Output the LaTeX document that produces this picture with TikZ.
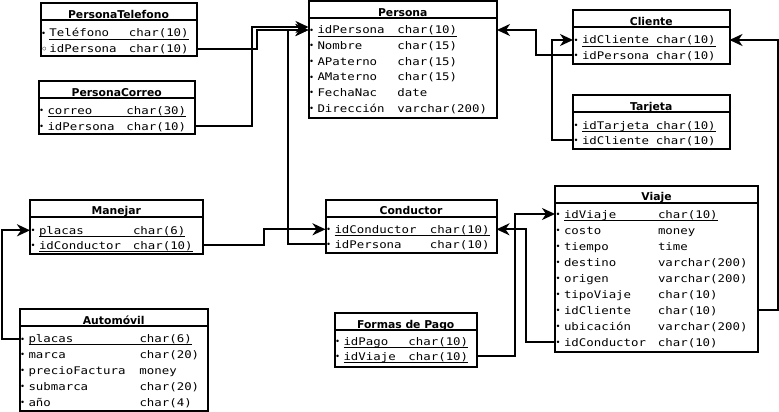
\documentclass[tikz,border=0pt]{standalone}
\usepackage{fontspec}
\usetikzlibrary{arrows.meta}
\newfontfamily\tabfont[FakeStretch=1.18]{DejaVu Sans Mono}
\newfontfamily\titfont{DejaVu Sans}
\newcommand{\punto}{\makebox[8pt][l]{\hspace{-0.3pt}\raisebox{0.6pt}{\titfont\fontsize{8.5}{8.5}\selectfont •}}}
\newcommand{\circulo}{\makebox[8pt][l]{\hspace{-0.6pt}\raisebox{-0.4pt}{\titfont\fontsize{12}{12}\selectfont ◦}}}
\newcommand{\campo}[2]{\makebox[#1pt][l]{#2}}
\newcommand{\clave}[1]{\setbox0\hbox{#1}\rlap{\rule[-2.6pt]{\wd0}{1pt}}\box0}

\begin{document}
\begin{tikzpicture}
        [x=1pt, y=-1pt,
        titulo/.style={draw, line width=2pt, inner sep=0pt, outer sep=0pt, anchor=north west, minimum height=17pt, text height=13.5pt, text depth=0pt, font=\titfont\bfseries\fontsize{10.8}{12}\selectfont},
        cuerpo/.style={draw, line width=2pt, inner sep=0pt, outer sep=0pt, anchor=north west},
        fila/.style={anchor=west, inner sep=0pt, outer sep=0pt, text height=8pt, text depth=0pt, font=\tabfont\fontsize{10.5}{12}\selectfont},
        fk/.style={line width=2pt, -{Stealth[length=13pt,width=12pt,inset=4pt]}}]

        \useasboundingbox (0,0) rectangle (779,412);

        \node[titulo, minimum width=156pt] (ptel) at (40.5,3.5) {PersonaTelefono};
        \node[cuerpo, minimum width=156pt, minimum height=36pt] (ptel-b) at (ptel.south west) {};
        \node[fila] (ptel-1) at (41.5,33) {\punto\clave{\campo{79.5}{Teléfono}char(10)}};
        \node[fila] (ptel-2) at (41.5,49) {\circulo\campo{79.5}{idPersona}char(10)};

        \node[titulo, minimum width=156.5pt] (pcor) at (38.5,81) {PersonaCorreo};
        \node[cuerpo, minimum width=156.5pt, minimum height=36pt] (pcor-b) at (pcor.south west) {};
        \node[fila] (pcor-1) at (39.5,110.5) {\punto\clave{\campo{79}{correo}char(30)}};
        \node[fila] (pcor-2) at (39.5,126) {\punto\campo{79}{idPersona}char(10)};

        \node[titulo, minimum width=188.5pt] (per) at (308.5,1) {Persona};
        \node[cuerpo, minimum width=188.5pt, minimum height=100pt] (per-b) at (per.south west) {};
        \node[fila] (per-1) at (309.5,30) {\punto\clave{\campo{80}{idPersona}char(10)}};
        \node[fila] (per-2) at (309.5,45.6) {\punto\campo{80}{Nombre}char(15)};
        \node[fila] (per-3) at (309.5,61.2) {\punto\campo{80}{APaterno}char(15)};
        \node[fila] (per-4) at (309.5,76.8) {\punto\campo{80}{AMaterno}char(15)};
        \node[fila] (per-5) at (309.5,92.4) {\punto\campo{80}{FechaNac}date};
        \node[fila] (per-6) at (309.5,108) {\punto\campo{80}{Dirección}varchar(200)};

        \node[titulo, minimum width=156.5pt] (cli) at (573,10) {Cliente};
        \node[cuerpo, minimum width=156.5pt, minimum height=37.5pt] (cli-b) at (cli.south west) {};
        \node[fila] (cli-1) at (574,40) {\punto\clave{\campo{74}{idCliente}char(10)}};
        \node[fila] (cli-2) at (574,55.5) {\punto\campo{74}{idPersona}char(10)};

        \node[titulo, minimum width=156.5pt] (tar) at (573,95) {Tarjeta};
        \node[cuerpo, minimum width=156.5pt, minimum height=37pt] (tar-b) at (tar.south west) {};
        \node[fila] (tar-1) at (574,125) {\punto\clave{\campo{74}{idTarjeta}char(10)}};
        \node[fila] (tar-2) at (574,140) {\punto\campo{74}{idCliente}char(10)};

        \node[titulo, minimum width=172.5pt] (man) at (30,199.5) {Manejar};
        \node[cuerpo, minimum width=172.5pt, minimum height=37pt] (man-b) at (man.south west) {};
        \node[fila] (man-1) at (31,230.3) {\punto\clave{\campo{94}{placas}char(6)}};
        \node[fila] (man-2) at (31,245.3) {\punto\clave{\campo{94}{idConductor}char(10)}};

        \node[titulo, minimum width=188.5pt] (aut) at (19.5,309) {Automóvil};
        \node[cuerpo, minimum width=188.5pt, minimum height=84.5pt] (aut-b) at (aut.south west) {};
        \node[fila] (aut-1) at (20.5,338.7) {\punto\clave{\campo{111}{placas}char(6)}};
        \node[fila] (aut-2) at (20.5,354.5) {\punto\campo{111}{marca}char(20)};
        \node[fila] (aut-3) at (20.5,370.3) {\punto\campo{111}{precioFactura}money};
        \node[fila] (aut-4) at (20.5,386.1) {\punto\campo{111}{submarca}char(20)};
        \node[fila] (aut-5) at (20.5,402) {\punto\campo{111}{año}char(4)};

        \node[titulo, minimum width=171pt] (con) at (325.5,199.5) {Conductor};
        \node[cuerpo, minimum width=171pt, minimum height=36pt] (con-b) at (con.south west) {};
        \node[fila] (con-1) at (326.5,229.3) {\punto\clave{\campo{95.5}{idConductor}char(10)}};
        \node[fila] (con-2) at (326.5,244.3) {\punto\campo{95.5}{idPersona}char(10)};

        \node[titulo, minimum width=142.5pt] (fdp) at (334.5,313) {Formas de Pago};
        \node[cuerpo, minimum width=142.5pt, minimum height=36.5pt] (fdp-b) at (fdp.south west) {};
        \node[fila] (fdp-1) at (335.5,341) {\punto\clave{\campo{65}{idPago}char(10)}};
        \node[fila] (fdp-2) at (335.5,356) {\punto\clave{\campo{65}{idViaje}char(10)}};

        \node[titulo, minimum width=203pt] (via) at (555,185.5) {Viaje};
        \node[cuerpo, minimum width=203pt, minimum height=149pt] (via-b) at (via.south west) {};
        \node[fila] (via-1) at (556,214) {\punto\clave{\campo{94}{idViaje}char(10)}};
        \node[fila] (via-2) at (556,230) {\punto\campo{94}{costo}money};
        \node[fila] (via-3) at (556,246) {\punto\campo{94}{tiempo}time};
        \node[fila] (via-4) at (556,262) {\punto\campo{94}{destino}varchar(200)};
        \node[fila] (via-5) at (556,278) {\punto\campo{94}{origen}varchar(200)};
        \node[fila] (via-6) at (556,294) {\punto\campo{94}{tipoViaje}char(10)};
        \node[fila] (via-7) at (556,310) {\punto\campo{94}{idCliente}char(10)};
        \node[fila] (via-8) at (556,326) {\punto\campo{94}{ubicación}varchar(200)};
        \node[fila] (via-9) at (556,342) {\punto\campo{94}{idConductor}char(10)};

        \draw[fk] (ptel-b.east |- ptel-2) -- ++(60.5,0) |- (per-b.west |- per-1);
        \draw[fk] (pcor-b.east |- pcor-2) -- ++(57,0) |- ([yshift=3pt]per-b.west |- per-1);
        \draw[fk] (con-b.west |- con-2) -- ++(-37.5,0) |- (per-b.west |- per-1);
        \draw[fk] (man-b.east |- man-2) -- ++(61,0) |- (con-b.west |- con-1);
        \draw[fk] (cli-b.west |- cli-2) -- ++(-37.5,0) |- (per-b.east |- per-1);
        \draw[fk] (tar-b.west |- tar-2) -- ++(-21,0) |- (cli-b.west |- cli-1);
        \draw[fk] (via-b.east |- via-7) -- ++(20,0) |- (cli-b.east |- cli-1);
        \draw[fk] (via-b.west |- via-9) -- ++(-29.5,0) |- (con-b.east |- con-1);
        \draw[fk] (fdp-b.east |- fdp-2) -- ++(38,0) |- (via-b.west |- via-1);
        \draw[fk] (aut-b.west |- aut-1) -- ++(-17.5,0) |- (man-b.west |- man-1);

      \end{tikzpicture}
\end{document}
